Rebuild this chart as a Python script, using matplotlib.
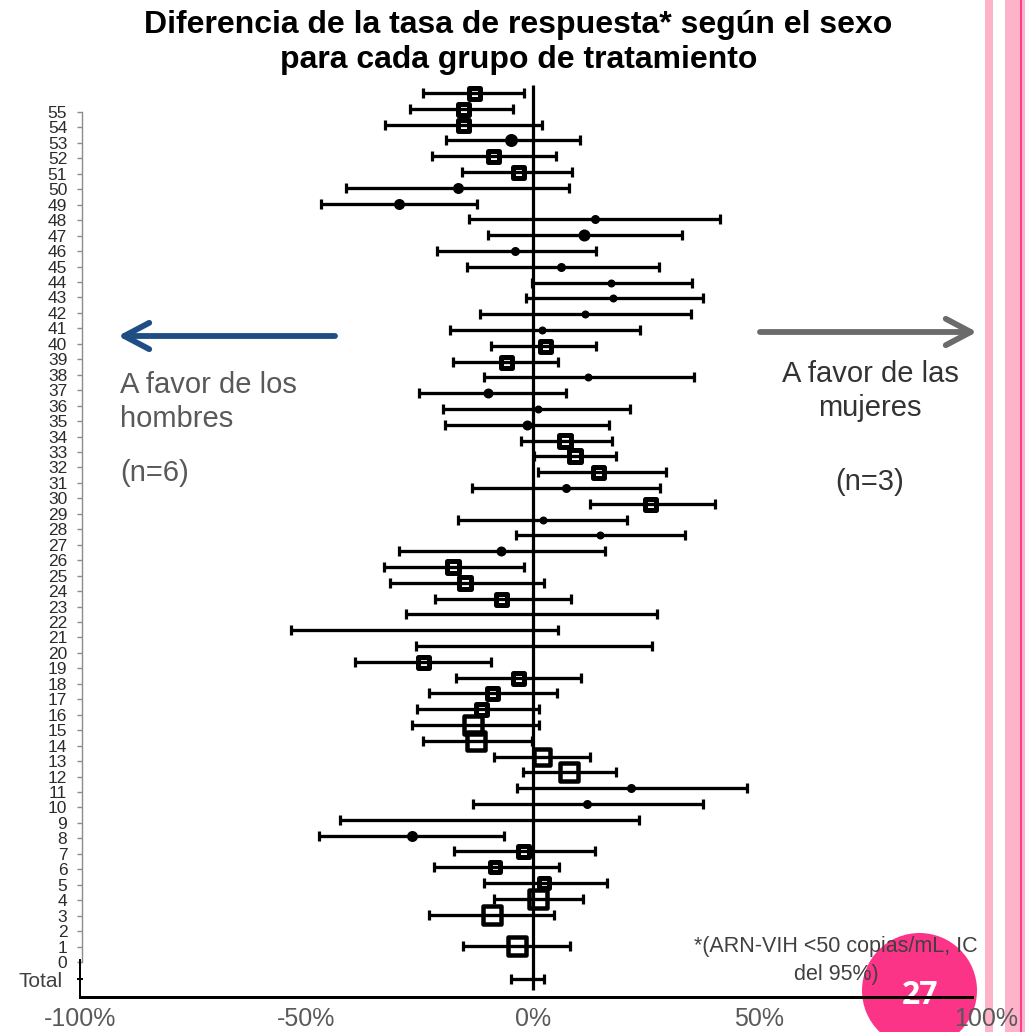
import numpy as np
import matplotlib
matplotlib.use("Agg")
import matplotlib.pyplot as plt
from matplotlib.patches import Circle, Rectangle, FancyArrowPatch, ArrowStyle
from matplotlib.markers import MarkerStyle

plt.rcParams['font.family'] = ['Liberation Sans', 'DejaVu Sans']

# Difference in response rate (women minus men, %) and 95% CI, one row per slot, top to bottom
diff = [-13.0, -15.5, -15.5, -4.9, -8.8, -3.3, -16.6, -29.6, 13.7, 11.3,
        -4.0, 6.2, 17.2, 17.7, 11.5, 2.0, 2.6, -6.0, 12.1, -9.9,
        1.1, -1.3, 7.1, 9.3, 14.3, 7.3, 25.8, 2.2, 14.8, -7.1,
        -17.7, -15.0, -7.1, np.nan, np.nan, np.nan, -24.3, -3.3, -9.1, -11.5,
        -13.2, -12.6, 2.0, 7.9, 21.6, 11.9, np.nan, -26.7, -2.2, -8.4,
        2.4, 1.1, -9.1, np.nan, -3.5]
ci_low = [-24.3, -27.2, -32.7, -19.2, -22.3, -15.7, -41.3, -46.8, -14.1, -9.9,
          -21.2, -14.6, -0.2, -1.5, -11.7, -18.3, -9.3, -17.7, -10.8, -25.2,
          -19.9, -19.4, -2.6, 0.2, 1.1, -13.5, 12.6, -16.6, -3.8, -29.6,
          -32.9, -31.6, -21.6, -28.0, -53.4, -25.8, -39.3, -17.0, -23.0, -25.6,
          -26.7, -24.3, -8.6, -2.2, -3.5, -13.2, -42.6, -47.2, -17.4, -21.9,
          -10.8, -8.6, -23.0, np.nan, -15.5]
ci_high = [-2.0, -4.4, 2.0, 10.4, 5.1, 8.6, 7.9, -12.4, 41.3, 32.9,
           13.9, 27.8, 35.1, 37.5, 34.9, 23.6, 13.9, 5.5, 35.5, 7.3,
           21.4, 16.8, 17.4, 18.3, 29.4, 28.0, 40.2, 20.8, 33.6, 15.9,
           -2.0, 2.4, 8.4, 27.4, 5.5, 26.3, -9.3, 10.6, 5.3, 1.3,
           1.3, -0.2, 12.6, 18.3, 47.2, 37.5, 23.4, -6.4, 13.7, 5.7,
           16.3, 11.0, 4.6, np.nan, 8.2]
total_low, total_high = -4.9, 2.4

study_ticks = list(range(55, -1, -1))
x_ticks = [-100, -50, 0, 50, 100]
x_tick_labels = ['-100%', '-50%', '0%', '50%', '100%']

# marker style per row: 's' hollow square, 'o' filled dot, '' no marker; size in pixels
marker_kind = ['s', 's', 's', 'o', 's', 's', 'o', 'o', 'o', 'o',
               'o', 'o', 'o', 'o', 'o', 'o', 's', 's', 'o', 'o',
               'o', 'o', 's', 's', 's', 'o', 's', 'o', 'o', 'o',
               's', 's', 's', '', '', '', 's', 's', 's', 's',
               's', 's', 's', 's', 'o', 'o', '', 'o', 's', 's',
               's', 's', 's', '', 's']
marker_px = [16, 16, 16, 13, 16, 16, 11, 11, 9, 12,
             9, 9, 8, 8, 8, 8, 16, 16, 8, 10,
             8, 10, 17, 17, 16, 9, 16, 8, 8, 10,
             17, 17, 16, 0, 0, 0, 16, 16, 16, 16,
             23, 22, 21, 23, 9, 9, 0, 11, 16, 15,
             15, 22, 22, 0, 22]

W, H = 1025, 1032
PX = 72.0 / 100.0  # points per pixel at 100 dpi
fig = plt.figure(figsize=(W / 100, H / 100), dpi=100)


def fx(px):
    return px / W


def fy(py):
    return 1 - py / H


def inch(px, py):
    return (px / 100.0, (H - py) / 100.0)


# ---- forest plot axes ----
ax = fig.add_axes([fx(80), fy(997), (986 - 80) / W, (997 - 85) / H])
ax.set_facecolor('none')
ax.set_zorder(2)
n = len(diff)
ypos = np.arange(n - 1, -1, -1, dtype=float)
total_y = -2.1
ax.set_xlim(-100, 100)
ax.set_ylim(-3.22, 54.5)

lo = np.array(ci_low, dtype=float)
hi = np.array(ci_high, dtype=float)
ok = ~np.isnan(lo)
ci_y = np.append(ypos[ok], total_y)
ci_lo = np.append(lo[ok], total_low)
ci_hi = np.append(hi[ok], total_high)
ax.hlines(ci_y, ci_lo, ci_hi, color='black', lw=3.3 * PX, zorder=3)
for ends in (ci_lo, ci_hi):
    ax.plot(ends, ci_y, ls='none', marker='|', ms=10.5 * PX, mew=3.2 * PX,
            color='black', zorder=3)

ax.vlines(0, -2.77, 54.5, color='black', lw=3.2 * PX, zorder=3)

sq = MarkerStyle('s', joinstyle='round')
for y, d, kind, size in zip(ypos, diff, marker_kind, marker_px):
    if not kind or np.isnan(d):
        continue
    if kind == 's':
        edge_px = 5.0 if size < 20 else 4.5
        ax.plot([d], [y], marker=sq, ms=(size - edge_px) * PX, mfc='none',
                mec='black', mew=edge_px * PX, ls='none', zorder=4)
    else:
        ax.plot([d], [y], marker='o', ms=size * PX, mfc='black', mec='black',
                mew=0, ls='none', zorder=4)

for side in ('top', 'right'):
    ax.spines[side].set_visible(False)
ax.spines['bottom'].set_linewidth(3.0 * PX)
ax.spines['bottom'].set_bounds(-100, 97)
ax.spines['left'].set_linewidth(2.0 * PX)
ax.spines['left'].set_bounds(-3.22, -0.87)

ax.set_xticks(x_ticks)
ax.set_xticklabels(x_tick_labels, fontsize=18, color='#595959')
ax.tick_params(axis='x', length=0, pad=7)
ax.set_yticks([total_y])
ax.set_yticklabels(['Total'], fontsize=15, color='#404040')
ax.tick_params(axis='y', direction='inout', length=6 * PX, width=2 * PX,
               pad=10)

# ---- numbered study axis ----
lab = fig.add_axes([fx(82), fy(997), (986 - 82) / W, (997 - 85) / H])
lab.set_facecolor('none')
lab.set_zorder(1)
lab.set_xlim(0, 1)
lab.set_ylim(-2.265, 56.75)
for side in ('top', 'right', 'bottom'):
    lab.spines[side].set_visible(False)
lab.spines['left'].set_color('#8c8c8c')
lab.spines['left'].set_linewidth(1.4 * PX)
lab.spines['left'].set_bounds(0, 55)
lab.set_xticks([])
lab.set_yticks(study_ticks)
lab.set_yticklabels([str(t) for t in study_ticks], fontsize=12.5,
                    color='#2b2b2b')
lab.tick_params(axis='y', length=5 * PX, width=1.4 * PX, color='#8c8c8c',
                pad=7)

# ---- slide decorations ----
fig.add_artist(Circle(inch(919.5, 990.5), 0.575, transform=fig.dpi_scale_trans,
                      facecolor='#fc3488', edgecolor='none', zorder=-2))
fig.text(fx(920), fy(1003.5), '27', ha='center', va='baseline', fontsize=23,
         fontweight='bold', color='white', family=['Open Sans', 'DejaVu Sans'],
         zorder=-1)
for x0, x1, col in [(985, 993, '#ffb3c9'), (1005, 1025, '#ffb3c9'),
                    (1020, 1022.5, '#ff3d8f')]:
    fig.add_artist(Rectangle(inch(x0, H), (x1 - x0) / 100, H / 100,
                             transform=fig.dpi_scale_trans, facecolor=col,
                             edgecolor='none', zorder=-2))

# ---- title ----
fig.text(fx(518.5), fy(33), 'Diferencia de la tasa de respuesta* según el sexo',
         ha='center', va='baseline', fontsize=23, fontweight='bold', color='black')
fig.text(fx(518.5), fy(68), 'para cada grupo de tratamiento',
         ha='center', va='baseline', fontsize=23, fontweight='bold', color='black')

# ---- direction arrows and notes ----
for (xa, ya), (xb, yb), col in [((335, 336), (118, 336), '#1f4e84'),
                                ((760, 332), (977, 332), '#6b6b6b')]:
    fig.add_artist(FancyArrowPatch(inch(xa, ya), inch(xb, yb),
                                   transform=fig.dpi_scale_trans,
                                   arrowstyle=ArrowStyle('->', head_length=18,
                                                         head_width=9.5),
                                   mutation_scale=1, lw=4.2, color=col,
                                   capstyle='round', joinstyle='round',
                                   shrinkA=0, shrinkB=0, zorder=3))

note_kw = dict(fontsize=21, va='baseline')
fig.text(fx(120), fy(393), 'A favor de los', ha='left', color='#595959', **note_kw)
fig.text(fx(120), fy(427), 'hombres', ha='left', color='#595959', **note_kw)
fig.text(fx(120), fy(481), '(n=6)', ha='left', color='#595959', **note_kw)
fig.text(fx(870), fy(382), 'A favor de las', ha='center', color='#333333', **note_kw)
fig.text(fx(870), fy(416), 'mujeres', ha='center', color='#333333', **note_kw)
fig.text(fx(870), fy(490), '(n=3)', ha='center', color='#333333', **note_kw)

fig.text(fx(836), fy(952), '*(ARN-VIH <50 copias/mL, IC', ha='center',
         va='baseline', fontsize=15.5, color='#404040')
fig.text(fx(836), fy(980), 'del 95%)', ha='center', va='baseline',
         fontsize=15.5, color='#404040')

fig.savefig('out.png', dpi=100)
